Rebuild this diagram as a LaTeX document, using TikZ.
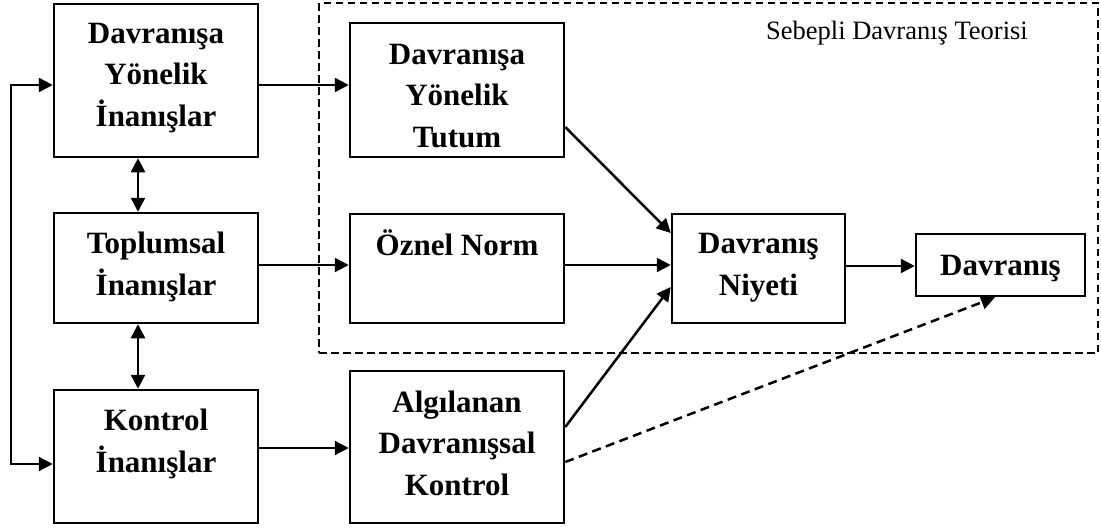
\documentclass[tikz,border=0pt]{standalone}
\usepackage{fontspec}
\setmainfont{Liberation Serif}
\usetikzlibrary{arrows.meta,calc}

\begin{document}
\begin{tikzpicture}[x=1pt,y=-1pt,
  box/.style={draw, line width=2.5pt, inner sep=0pt, fill=white},
  txt/.style={font=\bfseries\fontsize{31}{41.5}\selectfont, align=center, anchor=base, inner sep=0pt},
  lbl/.style={font=\fontsize{26.5}{30}\selectfont, anchor=base, inner sep=0pt},
  arr/.style={line width=2.5pt, -{Triangle[length=14pt,width=14pt]}},
  arrtwo/.style={line width=2.5pt, {Triangle[length=14pt,width=14pt]}-{Triangle[length=14pt,width=14pt]}},
  dashedarr/.style={arr, dash pattern=on 9pt off 5.5pt},
  frame/.style={draw, line width=2.2pt, dash pattern=on 7.5pt off 4.5pt, inner sep=0pt}
]
\useasboundingbox (0,0) rectangle (1101,527);

% theory frame
\node[frame, minimum width=779pt, minimum height=350pt] (sdt) at (708.5,178) {};
\node[lbl] (sdtlabel) at (897,40) {Sebepli Davranış Teorisi};

% boxes
\node[box, minimum width=204pt, minimum height=153pt] (A) at (156,80.5) {};
\node[box, minimum width=204pt, minimum height=110pt] (B) at (156,268) {};
\node[box, minimum width=204pt, minimum height=133pt] (G) at (156,456.5) {};
\node[box, minimum width=214pt, minimum height=134pt] (C) at (457,90) {};
\node[box, minimum width=214pt, minimum height=109pt] (D) at (457,268.5) {};
\node[box, minimum width=214pt, minimum height=152pt] (H) at (457,447) {};
\node[box, minimum width=173pt, minimum height=109pt] (E) at (758.5,268.5) {};
\node[box, minimum width=169pt, minimum height=62pt] (F) at (1000.5,265) {};

% box texts (placed by the baseline of their last line)
\node[txt] (tA) at (156,126) {Davranışa\\Yönelik\\İnanışlar};
\node[txt] (tB) at (156,295) {Toplumsal\\İnanışlar};
\node[txt] (tG) at (156,472) {Kontrol\\İnanışlar};
\node[txt] (tC) at (457,147) {Davranışa\\Yönelik\\Tutum};
\node[txt] (tD) at (457,255) {Öznel Norm};
\node[txt] (tH) at (457,495) {Algılanan\\Davranışsal\\Kontrol};
\node[txt] (tE) at (758.5,295) {Davranış\\Niyeti};
\node[txt] (tF) at (1000.5,275) {Davranış};

% helper coordinates for connector rows and columns
\coordinate (yAC) at (0,85);
\coordinate (yBD) at (0,265);
\coordinate (yEF) at (0,266);
\coordinate (yGH) at (0,448);
\coordinate (yGf) at (0,464);
\coordinate (fbx) at (11,0);
\coordinate (xv) at (138,0);
\coordinate (yC1) at (0,127);
\coordinate (yE1) at (0,233);
\coordinate (yH1) at (0,427);
\coordinate (yE2) at (0,287);
\coordinate (yH2) at (0,462);
\coordinate (xF1) at (995,0);

% horizontal connectors
\draw[arr] (A.east |- yAC) -- (C.west |- yAC);
\draw[arr] (B.east |- yBD) -- (D.west |- yBD);
\draw[arr] (D.east |- yBD) -- (E.west |- yBD);
\draw[arr] (E.east |- yEF) -- (F.west |- yEF);
\draw[arr] (G.east |- yGH) -- (H.west |- yGH);

% feedback loop on the left
\draw[arrtwo] (A.west |- yAC) -- (fbx |- yAC) -- (fbx |- yGf) -- (G.west |- yGf);

% links between the belief boxes
\draw[arrtwo] (xv |- A.south) -- (xv |- B.north);
\draw[arrtwo] (xv |- B.south) -- (xv |- G.north);

% diagonal connectors
\draw[arr] (C.east |- yC1) -- (E.west |- yE1);
\draw[arr] (H.east |- yH1) -- (E.west |- yE2);
\draw[dashedarr] (H.east |- yH2) -- (xF1 |- F.south);
\end{tikzpicture}
\end{document}
